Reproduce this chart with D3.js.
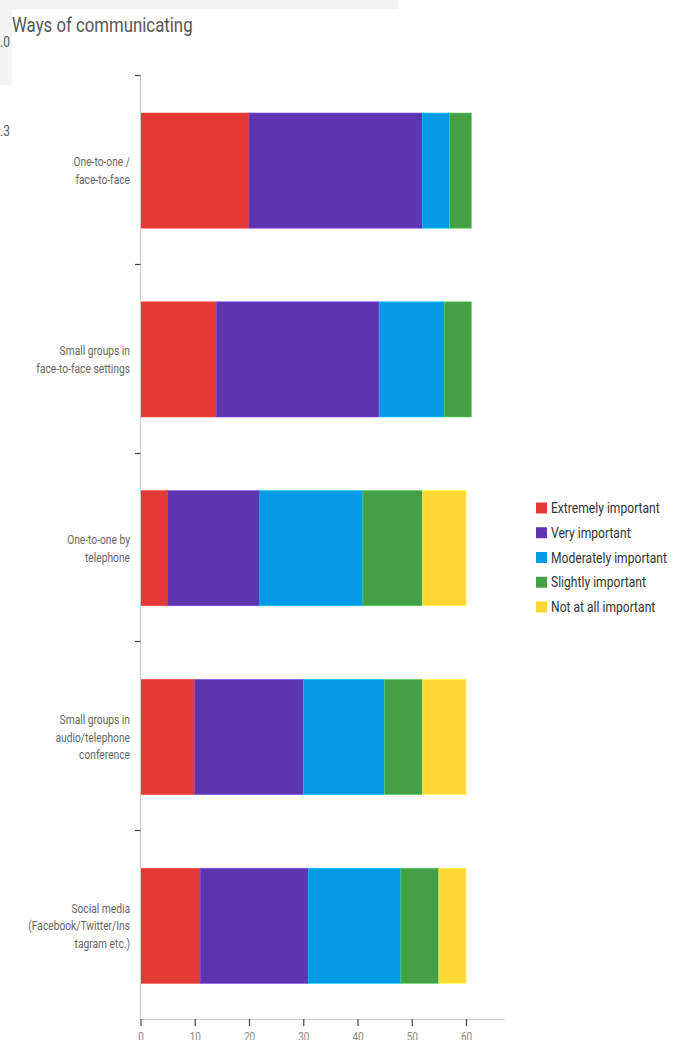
<!DOCTYPE html>
<html>
<head>
<meta charset="utf-8">
<script src="https://cdn.jsdelivr.net/npm/d3@7"></script>
<style>
  html, body { margin: 0; padding: 0; background: #fff; }
  svg text { font-family: "Roboto", "Liberation Sans", sans-serif; }
</style>
</head>
<body>
<svg id="chart" width="673" height="1040"></svg>
<script>
// Survey categories (line breaks mark how each label wraps)
const categories = [
  "One-to-one /\nface-to-face",
  "Small groups in\nface-to-face settings",
  "One-to-one by\ntelephone",
  "Small groups in\naudio/telephone\nconference",
  "Social media\n(Facebook/Twitter/Ins\ntagram etc.)"
];
const levels = ["Extremely important", "Very important", "Moderately important", "Slightly important", "Not at all important"];
const colors = ["#e53935", "#5e35b1", "#039be5", "#43a047", "#fdd835"];

// Response counts per level, one value per category
const extremely  = [20, 14, 5, 10, 11];
const very       = [32, 30, 17, 20, 20];
const moderately = [5, 12, 19, 15, 17];
const slightly   = [4, 5, 11, 7, 7];
const notAtAll   = [0, 0, 8, 8, 5];
const xTicks = [0, 10, 20, 30, 40, 50, 60];

const series = [extremely, very, moderately, slightly, notAtAll];
const rows = categories.map((c, i) => {
  const r = { category: c };
  levels.forEach((l, j) => r[l] = series[j][i]);
  return r;
});

// Horizontal squeeze giving the narrow lettering
const SQ = 0.8;
const SQ_LEGEND = 0.835;
function narrowText(sel, x, y, sq = SQ) {
  return sel.append("text").attr("transform", `translate(${x},${y}) scale(${sq},1)`);
}

const svg = d3.select("#chart");

// Dashboard panel remnants around the chart
svg.append("rect").attr("x", 0).attr("y", 0).attr("width", 398).attr("height", 9).attr("fill", "#f4f4f4");
svg.append("rect").attr("x", 0).attr("y", 0).attr("width", 12).attr("height", 85).attr("fill", "#f4f4f4");
narrowText(svg, 10, 47).attr("text-anchor", "end").attr("font-size", 15).attr("fill", "#555").text("1.0");
narrowText(svg, 10, 136).attr("text-anchor", "end").attr("font-size", 15).attr("fill", "#555").text("1.3");

narrowText(svg, 12, 31.5).attr("font-size", 21).attr("fill", "#555").text("Ways of communicating");

const stack = d3.stack().keys(levels)(rows);

const x = d3.scaleLinear().domain([0, 67.1]).range([140.5, 504.5]);
const y = d3.scaleBand().domain(categories).range([76.2, 1020.2]).paddingInner(0.39).paddingOuter(0.195);

const g = svg.append("g");
g.selectAll("g.layer").data(stack).join("g")
  .attr("class", "layer")
  .attr("fill", (d, i) => colors[i])
  .attr("stroke", (d, i) => d3.color(colors[i]).brighter(0.8))
  .attr("stroke-width", 0.6)
  .selectAll("rect").data(d => d.filter(p => p[1] > p[0])).join("rect")
  .attr("x", d => x(d[0]))
  .attr("width", d => x(d[1]) - x(d[0]))
  .attr("y", d => y(d.data.category))
  .attr("height", y.bandwidth());

// Y axis: line with ticks at band boundaries
const yAxisG = svg.append("g");
yAxisG.append("line").attr("x1", 140.5).attr("x2", 140.5).attr("y1", 75).attr("y2", 1019)
  .attr("stroke", "#ccc");
const step = y.step();
yAxisG.selectAll("line.tick").data(categories).join("line").attr("class", "tick")
  .attr("x1", 135).attr("x2", 140.5)
  .attr("y1", (d, i) => Math.round(75 + i * step) + 0.5)
  .attr("y2", (d, i) => Math.round(75 + i * step) + 0.5)
  .attr("stroke", "#444").attr("stroke-width", 1.2);

categories.forEach(d => {
  const lines = d.split("\n");
  const cy = y(d) + y.bandwidth() / 2;
  const lh = 17.7;
  const t = narrowText(yAxisG, 130, cy).attr("text-anchor", "end")
    .attr("font-size", 12.8).attr("fill", "#666");
  lines.forEach((ln, k) => {
    t.append("tspan").attr("x", 0)
      .attr("y", (k - (lines.length - 1) / 2) * lh + 4.5)
      .text(ln);
  });
});

// X axis
const xAxis = d3.axisBottom(x).tickValues(xTicks).tickSize(7).tickPadding(6);
const xg = svg.append("g").attr("transform", "translate(0,1019)").call(xAxis);
xg.select(".domain").attr("stroke", "#ccc").attr("d", "M140.5,0.5H504.5");
xg.selectAll(".tick line").attr("stroke", "#444").attr("stroke-width", 1.2);
xg.selectAll(".tick text").attr("fill", "#888").attr("font-size", 12.5)
  .attr("transform", `scale(${SQ},1)`)
  .style("font-family", "Roboto, sans-serif");

// Legend
const lg = svg.append("g").attr("transform", "translate(536,508)");
const item = lg.selectAll("g").data(levels).join("g")
  .attr("transform", (d, i) => `translate(0,${i * 24.75})`);
item.append("rect").attr("x", 0).attr("y", -5.5).attr("width", 11).attr("height", 11)
  .attr("fill", (d, i) => colors[i]);
item.append("text").attr("transform", `translate(15,5) scale(${SQ_LEGEND},1)`)
  .attr("font-size", 14.5).attr("fill", "#333")
  .text(d => d);
</script>
</body>
</html>
